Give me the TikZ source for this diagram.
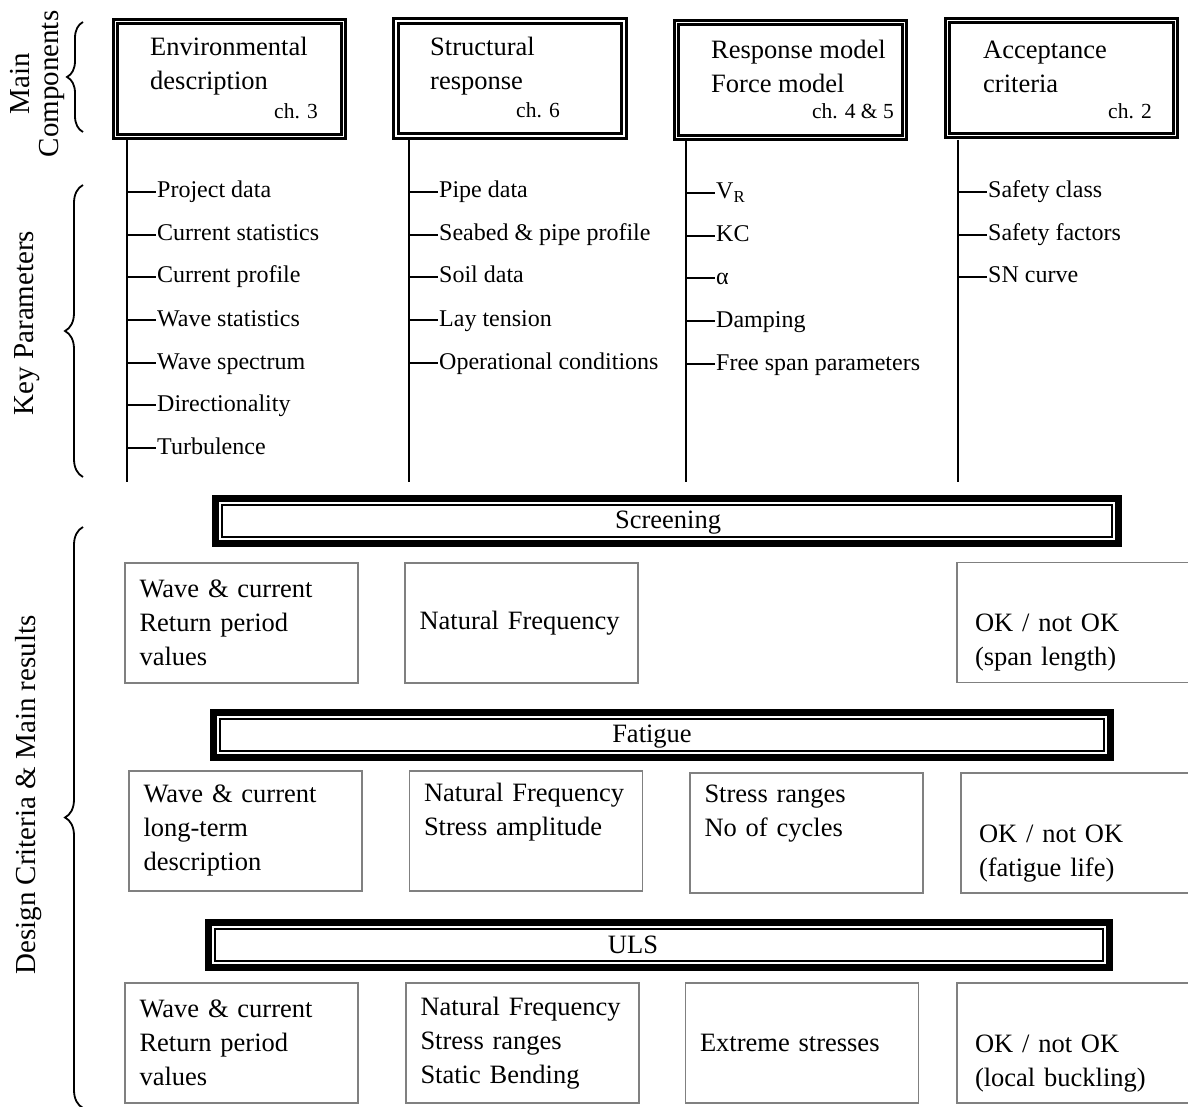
\documentclass[tikz,border=0pt]{standalone}
\usepackage{fontspec}
\setmainfont{Liberation Serif}
\usetikzlibrary{decorations.pathreplacing}

\tikzset{
  compbox/.style={draw, line width=2.7pt, double=white, double distance=1.8pt,
    minimum width=228pt, minimum height=115pt},
  comptitle/.style={anchor=west, inner sep=0pt, align=left,
    font=\fontsize{26.5}{34}\selectfont},
  chap/.style={anchor=east, inner sep=0pt, font=\fontsize{21.5}{24}\selectfont},
  param/.style={anchor=west, inner xsep=1.5pt, inner ysep=0pt,
    text height=17pt, text depth=5pt, font=\fontsize{24}{28}\selectfont},
  tick/.style={line width=1.8pt},
  banner/.style={draw, line width=7pt, minimum height=45pt},
  bannerin/.style={line width=2pt},
  bannertext/.style={font=\fontsize{26.5}{30}\selectfont},
  result/.style={draw=gray, line width=1.4pt, minimum width=233pt,
    minimum height=120pt, text width=204pt, inner xsep=14.5pt, align=left,
    font=\fontsize{26.5}{34}\selectfont,
    execute at begin node={\hyphenpenalty 10000\relax}},
  lastcol/.style={minimum width=240pt},
  sidebrace/.style={decorate, decoration={brace, amplitude=#1}, line width=1.8pt},
  sidelabel/.style={rotate=90, align=center, font=\fontsize{29}{29}\selectfont},
}

\begin{document}
\begin{tikzpicture}[x=1pt,y=-1pt]
  \useasboundingbox (0,0) rectangle (1188,1107);
  % main components
  \node[compbox] (envbox) at (229.5,79) {};
  \node[compbox] (strbox) at (510,78.5) {};
  \node[compbox] (resbox) at (790.5,80) {};
  \node[compbox] (accbox) at (1061.5,78) {};
  \node[comptitle] (envtitle) at (150,66.5) {Environmental\\description};
  \node[comptitle] (strtitle) at (430,66) {Structural\\response};
  \node[comptitle] (restitle) at (711,66) {Response model\\Force model};
  \node[comptitle] (acctitle) at (983,67) {Acceptance\\criteria};
  \node[chap] (envch) at (318,111) {ch. 3};
  \node[chap] (strch) at (560,110) {ch. 6};
  \node[chap] (resch) at (894,111) {ch. 4 \& 5};
  \node[chap] (accch) at (1152,111) {ch. 2};
  % key parameters
  \coordinate (envtop) at (127,140);  \coordinate (envbot) at (127,482);
  \coordinate (strtop) at (409,140);  \coordinate (strbot) at (409,482);
  \coordinate (restop) at (686,140);  \coordinate (resbot) at (686,482);
  \coordinate (acctop) at (958,140);  \coordinate (accbot) at (958,482);
  \draw[tick] (envtop) -- (envbot);
  \draw[tick] (strtop) -- (strbot);
  \draw[tick] (restop) -- (resbot);
  \draw[tick] (acctop) -- (accbot);
  \foreach \txt [count=\i] in {Project data, Current statistics, Current profile,
      Wave statistics, Wave spectrum, Directionality, Turbulence}
    {\node[param] (env-\i) at (155.5,{round(192+42.7*(\i-1))}) {\txt};
     \draw[tick] (env-\i.west) -- (env-\i.west -| envtop);}
  \foreach \txt [count=\i] in {Pipe data, Seabed \& pipe profile, Soil data,
      Lay tension, Operational conditions}
    {\node[param] (str-\i) at (437.5,{round(192+42.7*(\i-1))}) {\txt};
     \draw[tick] (str-\i.west) -- (str-\i.west -| strtop);}
  \foreach \txt [count=\i] in {V\textsubscript{R}, KC, α, Damping,
      Free span parameters}
    {\node[param] (res-\i) at (714.5,{round(193+42.7*(\i-1))}) {\txt};
     \draw[tick] (res-\i.west) -- (res-\i.west -| restop);}
  \foreach \txt [count=\i] in {Safety class, Safety factors, SN curve}
    {\node[param] (acc-\i) at (986.5,{round(192+42.7*(\i-1))}) {\txt};
     \draw[tick] (acc-\i.west) -- (acc-\i.west -| acctop);}
  % design criteria bars
  \node[banner, minimum width=903pt] (screen) at (667,521) {};
  \draw[bannerin] ([shift={(10,10)}]screen.north west) rectangle ([shift={(-10,-10)}]screen.south east);
  \node[bannertext] (screentext) at (668,523) {Screening};
  \node[banner, minimum width=897pt] (fatigue) at (662,735) {};
  \draw[bannerin] ([shift={(10,10)}]fatigue.north west) rectangle ([shift={(-10,-10)}]fatigue.south east);
  \node[bannertext] (fatiguetext) at (652,737) {Fatigue};
  \node[banner, minimum width=901pt] (uls) at (659,944.5) {};
  \draw[bannerin] ([shift={(10,10)}]uls.north west) rectangle ([shift={(-10,-10)}]uls.south east);
  \node[bannertext] (ulstext) at (633,945) {ULS};
  % results
  \node[result] (scrwave) at (241.5,623) {Wave \& current\\Return period\\values};
  \node[result] (scrfreq) at (521.5,623) {Natural Frequency};
  \node[result, lastcol] (scrok) at (1077,622.5) {\strut\\OK / not OK\\(span length)};
  \node[result] (fatwave) at (245.5,831) {Wave \& current\\long-term\\description};
  \node[result] (fatfreq) at (526,831) {Natural Frequency\\Stress amplitude\\\strut};
  \node[result] (fatstress) at (806.5,833) {Stress ranges\\No of cycles\\\strut};
  \node[result, lastcol] (fatok) at (1081,833) {\strut\\OK / not OK\\(fatigue life)};
  \node[result] (ulswave) at (241.5,1043) {Wave \& current\\Return period\\values};
  \node[result] (ulsfreq) at (522.5,1043) {Natural Frequency\\Stress ranges\\Static Bending};
  \node[result] (ulsext) at (802,1043) {Extreme stresses};
  \node[result, lastcol] (ulsok) at (1077,1043) {\strut\\OK / not OK\\(local buckling)};
  % braces and side labels
  \draw[sidebrace=16pt] (83,132) -- (83,22);
  \draw[sidebrace=18pt] (83,477) -- (83,185);
  \draw[sidebrace=18pt] (83,1108) -- (83,527);
  \node[sidelabel] (complabel) at (37,84) {Main\\Components};
  \node[sidelabel] (paramlabel) at (27,323) {Key Parameters};
  \node[sidelabel] (designlabel) at (29,795) {Design Criteria \& Main results};
\end{tikzpicture}
\end{document}
